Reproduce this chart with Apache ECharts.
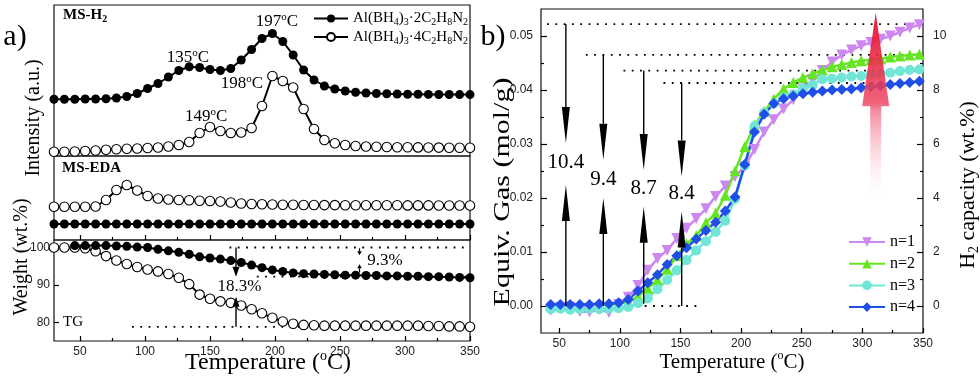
<!DOCTYPE html>
<html>
<head>
<meta charset="utf-8">
<script src="https://cdn.jsdelivr.net/npm/echarts@6/dist/echarts.min.js"></script>
<style>
  html, body { margin: 0; padding: 0; background: #fff; }
  #chart { width: 980px; height: 382px; }
</style>
</head>
<body>
<div id="chart"></div>
<script>
// ---- panel a) data ----
var tempA = [30, 38, 46, 54, 62, 70, 78, 86, 94, 102, 110, 118, 126, 134, 142, 150, 158, 166, 174, 182,
  190, 198, 206, 214, 222, 230, 238, 246, 254, 262, 270, 278, 286, 294, 302, 310, 318, 326, 334, 342, 350];
// MS-H2 intensity (a.u.)
var h2Two = [56.7, 56.7, 56.8, 57, 57, 57.3, 58, 59.5, 62.5, 67.5, 72.5, 79, 85.5, 89.3, 88.5, 86.5, 85.5, 87.5, 96, 106.5,
  117.5, 122.5, 114.5, 101, 86, 76, 70, 67, 65, 63.8, 63, 62.5, 62.2, 62, 61.8, 61.7, 61.6, 61.5, 61.5, 61.4, 61.4];
var h2Four = [4.3, 4.3, 4.5, 5, 5.5, 6.2, 6.8, 7.2, 7.5, 8, 8.5, 9.5, 11, 14, 23, 29, 25, 23, 23.5, 28,
  50, 80, 75, 68.5, 47, 27, 16, 12.7, 11, 10, 9.5, 9.2, 9, 8.8, 8.7, 8.6, 8.5, 8.4, 8.3, 8.2, 8.2];
// MS-EDA intensity (a.u.)
var edaTwo = [16, 16, 16, 16, 16, 16, 16, 16, 16, 16, 16, 16, 16, 16, 16, 16, 16, 16, 16, 16,
  16, 16, 16, 16, 16, 16, 16, 16, 16, 16, 16, 16, 16, 16, 16, 16, 16, 16, 16, 16, 16];
var edaFour = [33.3, 33.3, 33.3, 33.3, 33.5, 40, 50, 55, 49.5, 44, 41.5, 40.5, 40, 39.7, 39.3, 39, 38.5, 37.5, 36.5, 36,
  35.7, 35.5, 35.3, 35.2, 35, 35, 34.9, 34.9, 34.8, 34.8, 34.8, 34.7, 34.7, 34.7, 34.6, 34.6, 34.6, 34.5, 34.5, 34.5, 34.5];
// TG weight (wt.%)
var tgTwo = [null, null, 100.5, 100.5, 100.5, 100.5, 100.4, 100.3, 100.1, 100, 99.5, 99.1, 98.7, 98.2, 97.5, 97.2, 96.9, 96.5, 96, 95.3,
  94.6, 94, 93.6, 93.2, 93, 92.9, 92.8, 92.7, 92.6, 92.6, 92.5, 92.5, 92.4, 92.4, 92.3, 92.3, 92.2, 92.2, 92.1, 92, 91.9];
var tgFour = [100, 100, 100, 99.8, 99, 97.7, 96.5, 95.6, 94.8, 94.1, 93.6, 92.9, 91.9, 90.2, 87.4, 86.3, 85.6, 85.2, 84.5, 83.5,
  82.4, 81.2, 80.2, 79.6, 79.3, 79.2, 79.1, 79.1, 79.1, 79.1, 79.1, 79.1, 79.1, 79.1, 79.1, 79.1, 79, 79, 78.9, 78.9, 78.8];

var peakT = [201.5, 133, 174.6, 147];
var peakV = [134.3, 98, 72, 39];
var peakText = ['197', '135', '198', '149'];

// TG guides: [from T, to T, weight] and arrows [T, from, tip]
var tgDots = [[165, 350, 100], [186, 350, 92.2], [90, 350, 78.8]];
var tgArrows = [[170, 100, 92.2], [170, 78.8, 86.8]];
var tgSmallArrows = [[265, 99.8, 97.9], [265, 93.3, 95.5]];
var tgLabelPos = [[172.7, 89.5], [284.6, 96.6]];
var tgLabelText = ['18.3%', '9.3%'];

// ---- panel b) data ----
var tempB = [43, 51, 59, 67, 75, 83, 91, 99, 107, 115, 123, 131, 139, 147, 155, 163, 171, 179, 187, 195,
  203, 211, 219, 227, 235, 243, 251, 259, 267, 275, 283, 291, 299, 307, 315, 323, 331, 339, 347];
var gasN1 = [-0.0008, -0.0003, -0.0002, -0.001, -0.0011, -0.0006, -0.0012, 0.0003, 0.0016, 0.0038,
  0.0066, 0.0088, 0.0103, 0.0125, 0.0144, 0.0162, 0.018, 0.0203, 0.0222, 0.024,
  0.0258, 0.029, 0.0322, 0.0345, 0.0365, 0.0382, 0.0402, 0.0418, 0.0436, 0.0452,
  0.0465, 0.0474, 0.0482, 0.0488, 0.0494, 0.05, 0.0507, 0.0515, 0.0521];
var gasN2 = [0.0002, 0.0002, 0.0002, 0.0003, 0.0002, 0.0003, 0.0003, 0.0004, 0.0008, 0.0018,
  0.0033, 0.0048, 0.0068, 0.0093, 0.0115, 0.013, 0.0154, 0.0172, 0.0205, 0.025,
  0.0295, 0.0335, 0.036, 0.0383, 0.0402, 0.0414, 0.0423, 0.043, 0.0437, 0.0443,
  0.0447, 0.0451, 0.0454, 0.0456, 0.0458, 0.0461, 0.0463, 0.0465, 0.0466];
var gasN3 = [-0.0006, -0.0005, -0.0007, -0.0006, -0.0005, -0.0006, -0.0005, -0.0004, -0.0002, 0.0005,
  0.0014, 0.0031, 0.0048, 0.0066, 0.0085, 0.0103, 0.012, 0.0137, 0.0158, 0.0198,
  0.026, 0.0333, 0.0358, 0.0375, 0.0386, 0.0392, 0.0403, 0.0409, 0.042, 0.0421,
  0.0423, 0.0425, 0.0426, 0.0428, 0.043, 0.0432, 0.0435, 0.0437, 0.0438];
var gasN4 = [0.0003, 0.0003, 0.0003, 0.0003, 0.0003, 0.0004, 0.0004, 0.0006, 0.0012, 0.0028,
  0.0043, 0.0058, 0.0077, 0.0093, 0.0108, 0.0124, 0.014, 0.0155, 0.0176, 0.0202,
  0.0262, 0.0322, 0.0355, 0.0375, 0.0384, 0.0389, 0.0393, 0.0396, 0.0398, 0.04,
  0.0401, 0.0402, 0.0404, 0.0406, 0.0408, 0.041, 0.0412, 0.0414, 0.0416];

var gasDots = [[40, 350, 0.0522], [72, 350, 0.0465], [103, 350, 0.0436], [136, 350, 0.0413], [100, 168, 0]];
var gasArrows = [[55.5, 0.0522, 0.0302], [86.4, 0.0465, 0.0271], [119.7, 0.0436, 0.0252], [151, 0.0413, 0.024],
  [55.5, 0, 0.0224], [86.4, 0, 0.02], [119.7, 0.0004, 0.0184], [151, 0, 0.0175]];
var gasLabelPos = [[55.5, 0.0265], [86.4, 0.0234], [119.7, 0.0218], [151, 0.0209]];
var gasLabelText = ['10.4', '9.4', '8.7', '8.4'];
var redArrow = [[311, 0.0195, 0.037, 0.0543]]; // [T, tail, head base, tip]

var tickA = [50, 100, 150, 200, 250, 300, 350];
var minorA = [75, 125, 175, 225, 275, 325];
var tickW = [80, 90, 100];
var tickGas = [0, 0.01, 0.02, 0.03, 0.04, 0.05];
var minorGas = [0.005, 0.015, 0.025, 0.035, 0.045];
var tickCap = [0, 2, 4, 6, 8, 10];
var minorCap = [1, 3, 5, 7, 9];

var nameTwo = 'Al(BH4)3·2C2H8N2';
var nameFour = 'Al(BH4)3·4C2H8N2';

// ---- helpers ----
var SERIF = 'Liberation Serif';
var SANS = 'Liberation Sans';

function zip(xs, ys) {
  return xs.map(function (x, i) { return [x, ys[i]]; });
}

function dotRender(params, api) {
  var a = api.coord([api.value(0), api.value(2)]);
  var b = api.coord([api.value(1), api.value(2)]);
  return {
    type: 'line',
    shape: { x1: a[0], y1: a[1], x2: b[0], y2: b[1] },
    style: { stroke: '#000', lineWidth: 1.8, lineDash: [1.8, 6.5] }
  };
}

function arrowRender(head, width, lw) {
  return function (params, api) {
    var p0 = api.coord([api.value(0), api.value(1)]);
    var p1 = api.coord([api.value(0), api.value(2)]);
    var dir = p1[1] < p0[1] ? -1 : 1;
    var h = Math.min(head, Math.abs(p1[1] - p0[1]) * 0.6);
    var base = p1[1] - dir * h;
    return {
      type: 'group',
      children: [
        { type: 'line', shape: { x1: p0[0], y1: p0[1], x2: p0[0], y2: base }, style: { stroke: '#000', lineWidth: lw } },
        { type: 'polygon', shape: { points: [[p1[0], p1[1]], [p1[0] - width / 2, base], [p1[0] + width / 2, base]] }, style: { fill: '#000' } }
      ]
    };
  };
}

function textRender(texts, font, rich) {
  return function (params, api) {
    var p = api.coord([api.value(0), api.value(1)]);
    return {
      type: 'text', x: p[0], y: p[1],
      style: {
        text: texts[params.dataIndex], font: font, fill: '#000', rich: rich,
        align: 'center', verticalAlign: 'middle', textAlign: 'center', textVerticalAlign: 'middle'
      }
    };
  };
}

function redArrowRender(params, api) {
  var x = api.value(0);
  var tail = api.coord([x, api.value(1)]);
  var base = api.coord([x, api.value(2)]);
  var tip = api.coord([x, api.value(3)]);
  var cx = tip[0], hw = 13.5, sw = 5.5;
  return {
    type: 'polygon',
    shape: { points: [[cx, tip[1]], [cx + hw, base[1]], [cx + sw, base[1]], [cx + sw, tail[1]],
      [cx - sw, tail[1]], [cx - sw, base[1]], [cx - hw, base[1]]] },
    style: {
      fill: new echarts.graphic.LinearGradient(0, 0, 0, 1, [
        { offset: 0, color: 'rgba(232,16,44,0.95)' },
        { offset: 0.48, color: 'rgba(236,70,98,0.85)' },
        { offset: 0.52, color: 'rgba(240,110,135,0.8)' },
        { offset: 1, color: 'rgba(255,240,245,0)' }
      ])
    }
  };
}

function tickAxis(grid, min, max, ticks, len, labels, extra) {
  var ax = {
    gridIndex: grid, type: 'value', min: min, max: max,
    axisLine: { show: false, onZero: false },
    splitLine: { show: false },
    axisTick: { show: true, inside: true, length: len, customValues: ticks, lineStyle: { color: '#000', width: 1.2 } },
    axisLabel: labels ? { show: true, customValues: ticks, fontFamily: SANS, fontSize: 12, color: '#222' } : { show: false }
  };
  for (var k in extra) ax[k] = extra[k];
  if (labels && extra && extra.labelExtra) {
    for (var j in extra.labelExtra) ax.axisLabel[j] = extra.labelExtra[j];
  }
  delete ax.labelExtra;
  return ax;
}

var subRich = {
  t: { fontFamily: SERIF, fontSize: 15, lineHeight: 18, color: '#000' },
  s: { fontFamily: SERIF, fontSize: 10, lineHeight: 9, verticalAlign: 'bottom', color: '#000' }
};
var chemText = {};
chemText[nameTwo] = '{t|Al(BH}{s|4}{t|)}{s|3}{t|·2C}{s|2}{t|H}{s|8}{t|N}{s|2}';
chemText[nameFour] = '{t|Al(BH}{s|4}{t|)}{s|3}{t|·4C}{s|2}{t|H}{s|8}{t|N}{s|2}';

var peakRich = {
  p: { fontFamily: SERIF, fontSize: 17, lineHeight: 20, color: '#000' },
  o: { fontFamily: SERIF, fontSize: 11, lineHeight: 12, verticalAlign: 'top', color: '#000' }
};
var peakLabels = peakText.map(function (t) { return '{p|' + t + '}{o|o}{p|C}'; });

var chart = echarts.init(document.getElementById('chart'));

function filledSeries(name, x, y, data) {
  return {
    name: name, type: 'line', xAxisIndex: x, yAxisIndex: y, data: data,
    symbol: 'circle', symbolSize: 9, showAllSymbol: true, connectNulls: false,
    itemStyle: { color: '#000' }, lineStyle: { color: '#000', width: 2 }, z: 3
  };
}
function openSeries(name, x, y, data) {
  return {
    name: name, type: 'line', xAxisIndex: x, yAxisIndex: y, data: data,
    symbol: 'circle', symbolSize: 9.5, showAllSymbol: true,
    itemStyle: { color: '#fff', borderColor: '#000', borderWidth: 1.1 },
    lineStyle: { color: '#000', width: 2 }, z: 2
  };
}
function gasSeries(name, data, color, symbol, size, rotate) {
  return {
    name: name, type: 'line', xAxisIndex: 5, yAxisIndex: 3, data: zip(tempB, data),
    symbol: symbol, symbolSize: size, symbolRotate: rotate || 0, showAllSymbol: true,
    itemStyle: { color: color }, lineStyle: { color: color, width: 2.5 }, z: 3
  };
}

var option = {
  animation: false,
  backgroundColor: '#fff',
  grid: [
    { left: 54, top: 5, width: 416, height: 151, show: true, borderColor: '#111', borderWidth: 1.2 },
    { left: 54, top: 156, width: 416, height: 84, show: true, borderColor: '#111', borderWidth: 1.2 },
    { left: 54, top: 240, width: 416, height: 101, show: true, borderColor: '#111', borderWidth: 1.2 },
    { left: 541, top: 9, width: 382, height: 324, show: true, borderColor: '#111', borderWidth: 1.2 }
  ],
  xAxis: [
    { gridIndex: 0, type: 'value', min: 30, max: 350, show: false },
    tickAxis(1, 30, 350, tickA, 5, false, { position: 'bottom' }),
    tickAxis(2, 30, 350, tickA, 5, true, { position: 'bottom', labelExtra: { margin: 5 } }),
    tickAxis(1, 30, 350, minorA, 3, false, { position: 'bottom' }),
    tickAxis(2, 30, 350, minorA, 3, false, { position: 'bottom' }),
    tickAxis(3, 35, 350, tickA, 5, true, { position: 'bottom', labelExtra: { margin: 5 } }),
    tickAxis(3, 35, 350, minorA, 3, false, { position: 'bottom' })
  ],
  yAxis: [
    { gridIndex: 0, type: 'value', min: 0, max: 151, show: false },
    { gridIndex: 1, type: 'value', min: 0, max: 84, show: false },
    tickAxis(2, 75, 102, tickW, 5, true, { labelExtra: { margin: 4 } }),
    tickAxis(3, -0.005, 0.055, tickGas, 6, true, { position: 'left', labelExtra: { margin: 8, formatter: function (v) { return v.toFixed(2); } } }),
    tickAxis(3, -0.005, 0.055, minorGas, 3, false, { position: 'left' }),
    tickAxis(3, -1, 11, tickCap, 6, true, { position: 'right', labelExtra: { margin: 10 } }),
    tickAxis(3, -1, 11, minorCap, 3, false, { position: 'right' })
  ],
  legend: [
    {
      data: [nameTwo, nameFour], left: 308, top: 6, orient: 'vertical',
      itemWidth: 34, itemHeight: 10, itemGap: 2,
      formatter: function (n) { return chemText[n]; },
      textStyle: { rich: subRich }
    },
    {
      data: ['n=1', 'n=2', 'n=3', 'n=4'], left: 843, top: 228, orient: 'vertical',
      itemWidth: 36, itemHeight: 12, itemGap: 3.7,
      textStyle: { fontFamily: SERIF, fontSize: 16, lineHeight: 18, color: '#000' }
    }
  ],
  graphic: { elements: [
    { type: 'text', x: 15, y: 37, style: { text: 'a)', font: '30px "Liberation Serif"', fill: '#000', align: 'center', verticalAlign: 'middle', textAlign: 'center', textVerticalAlign: 'middle' } },
    { type: 'text', x: 493, y: 37, style: { text: 'b)', font: '30px "Liberation Serif"', fill: '#000', align: 'center', verticalAlign: 'middle', textAlign: 'center', textVerticalAlign: 'middle' } },
    { type: 'text', x: 63, y: 15, style: { text: '{b|MS-H}{bs|2}', fill: '#000', verticalAlign: 'middle', textVerticalAlign: 'middle',
      rich: { b: { fontFamily: SERIF, fontWeight: 'bold', fontSize: 15, lineHeight: 18 }, bs: { fontFamily: SERIF, fontWeight: 'bold', fontSize: 10, lineHeight: 9, verticalAlign: 'bottom' } } } },
    { type: 'text', x: 62, y: 168, style: { text: 'MS-EDA', font: 'bold 15px "Liberation Serif"', fill: '#000', verticalAlign: 'middle', textVerticalAlign: 'middle' } },
    { type: 'text', x: 63, y: 322, style: { text: 'TG', font: '15px "Liberation Serif"', fill: '#000', verticalAlign: 'middle', textVerticalAlign: 'middle' } },
    { type: 'text', x: 34, y: 118, rotation: Math.PI / 2, style: { text: 'Intensity (a.u.)', font: '20px "Liberation Serif"', fill: '#000', align: 'center', verticalAlign: 'middle', textAlign: 'center', textVerticalAlign: 'middle' } },
    { type: 'text', x: 22, y: 257, rotation: Math.PI / 2, style: { text: 'Weight (wt.%)', font: '20px "Liberation Serif"', fill: '#000', align: 'center', verticalAlign: 'middle', textAlign: 'center', textVerticalAlign: 'middle' } },
    { type: 'text', x: 268, y: 363, style: { text: '{t|Temperature (}{o|o}{t|C)}', fill: '#000', align: 'center', verticalAlign: 'middle', textAlign: 'center', textVerticalAlign: 'middle',
      rich: { t: { fontFamily: SERIF, fontSize: 24, lineHeight: 28 }, o: { fontFamily: SERIF, fontSize: 14, lineHeight: 14, verticalAlign: 'top' } } } },
    { type: 'text', x: 732, y: 362, style: { text: '{t|Temperature (}{o|o}{t|C)}', fill: '#000', align: 'center', verticalAlign: 'middle', textAlign: 'center', textVerticalAlign: 'middle',
      rich: { t: { fontFamily: SERIF, fontSize: 21, lineHeight: 24 }, o: { fontFamily: SERIF, fontSize: 12, lineHeight: 12, verticalAlign: 'top' } } } },
    { type: 'text', x: 503, y: 192, rotation: Math.PI / 2, scaleX: 1.25, style: { text: 'Equiv. Gas (mol/g)', font: '24px "Liberation Serif"', fill: '#000', align: 'center', verticalAlign: 'middle', textAlign: 'center', textVerticalAlign: 'middle' } },
    { type: 'text', x: 968, y: 185, rotation: Math.PI / 2, style: { text: '{t|H}{s|2}{t| capacity (wt.%)}', fill: '#000', align: 'center', verticalAlign: 'middle', textAlign: 'center', textVerticalAlign: 'middle',
      rich: { t: { fontFamily: SERIF, fontSize: 22, lineHeight: 26 }, s: { fontFamily: SERIF, fontSize: 14, lineHeight: 12, verticalAlign: 'bottom' } } } }
  ] },
  series: [
    filledSeries(nameTwo, 0, 0, zip(tempA, h2Two)),
    openSeries(nameFour, 0, 0, zip(tempA, h2Four)),
    filledSeries(nameTwo, 1, 1, zip(tempA, edaTwo)),
    openSeries(nameFour, 1, 1, zip(tempA, edaFour)),
    openSeries(nameFour, 2, 2, zip(tempA, tgFour)),
    filledSeries(nameTwo, 2, 2, zip(tempA, tgTwo)),
    { type: 'custom', xAxisIndex: 0, yAxisIndex: 0, silent: true, z: 5, renderItem: textRender(peakLabels, null, peakRich),
      data: zip(peakT, peakV) },
    { type: 'custom', xAxisIndex: 2, yAxisIndex: 2, silent: true, z: 1, renderItem: dotRender, data: tgDots },
    { type: 'custom', xAxisIndex: 2, yAxisIndex: 2, silent: true, z: 5, renderItem: arrowRender(10, 7, 1.4), data: tgArrows },
    { type: 'custom', xAxisIndex: 2, yAxisIndex: 2, silent: true, z: 5, renderItem: arrowRender(4, 4.5, 1.2), data: tgSmallArrows },
    { type: 'custom', xAxisIndex: 2, yAxisIndex: 2, silent: true, z: 5, renderItem: textRender(tgLabelText, '17px "Liberation Serif"'),
      data: tgLabelPos },

    gasSeries('n=1', gasN1, '#CC88EE', 'triangle', 11, 180),
    gasSeries('n=2', gasN2, '#66E622', 'triangle', 11),
    gasSeries('n=3', gasN3, '#70E6D6', 'circle', 10),
    gasSeries('n=4', gasN4, '#1F4FE6', 'diamond', 11),
    { type: 'custom', xAxisIndex: 5, yAxisIndex: 3, silent: true, z: 1, renderItem: dotRender, data: gasDots },
    { type: 'custom', xAxisIndex: 5, yAxisIndex: 3, silent: true, z: 5, renderItem: arrowRender(36, 8, 1.4), data: gasArrows },
    { type: 'custom', xAxisIndex: 5, yAxisIndex: 3, silent: true, z: 5, renderItem: textRender(gasLabelText, '21px "Liberation Serif"'),
      data: gasLabelPos },
    { type: 'custom', xAxisIndex: 5, yAxisIndex: 3, silent: true, z: 6, renderItem: redArrowRender, data: redArrow }
  ]
};

chart.setOption(option);
window.addEventListener('resize', function () {
  chart.resize();
});
</script>
</body>
</html>
